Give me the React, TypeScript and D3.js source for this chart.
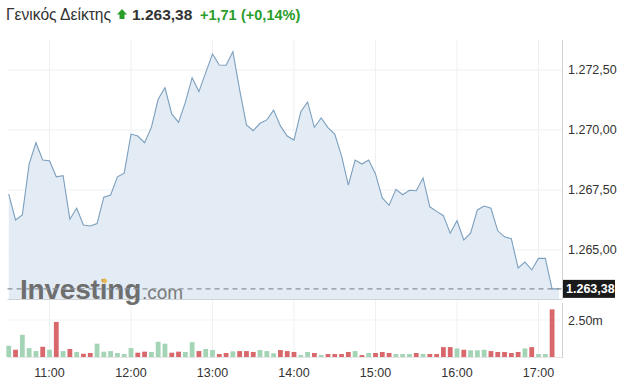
import * as d3 from "d3";

// 5-minute closes, starting 10:30
const startTime = "10:30";
const prices = [
  1267.33, 1266.25, 1266.46, 1268.58, 1269.47, 1268.75, 1268.72, 1268.05, 1268.1, 1266.28,
  1266.74, 1266.04, 1266.0, 1266.1, 1267.2, 1267.29, 1268.05, 1268.2, 1269.83, 1269.75,
  1269.47, 1270.11, 1271.28, 1271.76, 1270.67, 1270.32, 1271.15, 1272.18, 1271.6, 1272.39,
  1273.17, 1272.71, 1272.7, 1273.26, 1271.67, 1270.21, 1269.97, 1270.28, 1270.42, 1270.83,
  1270.17, 1269.75, 1269.58, 1270.76, 1271.17, 1270.11, 1270.5, 1270.1, 1269.83, 1268.92,
  1267.7, 1268.75, 1268.58, 1268.75, 1268.17, 1267.17, 1266.86, 1267.53, 1267.3, 1267.49,
  1267.47, 1268.0, 1266.8, 1266.61, 1266.43, 1265.7, 1266.22, 1265.42, 1265.7, 1266.67,
  1266.83, 1266.74, 1265.8, 1265.55, 1265.47, 1264.25, 1264.5, 1264.17, 1264.65, 1264.65,
  1263.38, 1263.38,
];

// volume in millions, volUp = up bar (green)
const volumes = [
  0.76, 0.49, 1.5, 0.6, 0.4, 0.69, 0.49, 2.37, 0.4, 0.54,
  0.34, 0.22, 0.27, 0.9, 0.36, 0.4, 0.27, 0.2, 0.6, 0.29,
  0.36, 0.34, 1.03, 0.9, 0.29, 0.36, 0.34, 1.0, 0.4, 0.54,
  0.47, 0.2, 0.27, 0.38, 0.4, 0.4, 0.34, 0.47, 0.4, 0.25,
  0.47, 0.4, 0.34, 0.13, 0.34, 0.27, 0.13, 0.2, 0.2, 0.2,
  0.34, 0.4, 0.13, 0.27, 0.27, 0.34, 0.27, 0.2, 0.2, 0.2,
  0.27, 0.2, 0.2, 0.2, 0.67, 0.67, 0.58, 0.49, 0.45, 0.45,
  0.49, 0.4, 0.34, 0.34, 0.27, 0.34, 0.58, 0.67, 0.2, 0.2,
  3.22,
];
const volUp = [
  1, 0, 1, 1, 1, 0, 1, 0, 1, 0,
  1, 0, 0, 1, 1, 1, 1, 1, 1, 0,
  0, 1, 1, 1, 0, 0, 1, 1, 0, 1,
  1, 0, 0, 1, 0, 0, 0, 1, 1, 1,
  0, 0, 0, 1, 1, 0, 1, 0, 0, 0,
  0, 1, 0, 1, 0, 0, 0, 1, 1, 1,
  0, 1, 0, 0, 0, 0, 1, 0, 1, 1,
  1, 0, 0, 0, 0, 0, 1, 0, 1, 1,
  0,
];

const priceTicks = [1265, 1267.5, 1270, 1272.5];
const volTicks = [2.5];
const hourTicks = ["11:00", "12:00", "13:00", "14:00", "15:00", "16:00", "17:00"];

const title = "Γενικός Δείκτης";
const lastPrice = "1.263,38";
const change = "+1,71";
const changePct = "(+0,14%)";
const lastValue = 1263.38;

const toMin = (s: string) => {
  const [h, m] = s.split(":").map(Number);
  return h * 60 + m;
};
const grFmt = (v: number) =>
  d3.format(",.2f")(v).replace(/,/g, "#").replace(".", ",").replace(/#/g, ".");

const FONT = "'Liberation Sans', Arial, sans-serif";

export default function App() {
  const left = 7.5;
  const right = 562;
  const t0 = toMin(startTime);

  const x = d3.scaleLinear().domain([660, 1020]).range([49.5, 538.5]);
  const y = d3.scaleLinear().domain([1262.958, 1273.75]).range([299, 40]);
  const yv = d3.scaleLinear().domain([0, 2.5]).range([357, 320]);

  const pts = prices.map((p, i) => ({ t: t0 + i * 5, p }));
  const line = d3
    .line<{ t: number; p: number }>()
    .x((d) => x(d.t))
    .y((d) => y(d.p));
  const area = d3
    .area<{ t: number; p: number }>()
    .x((d) => x(d.t))
    .y0(299)
    .y1((d) => y(d.p));

  const barW = 4.8;

  return (
    <svg
      width={626}
      height={390}
      style={{ position: "absolute", left: 0, top: 0, background: "#fff" }}
      fontFamily={FONT}
    >
      {/* header */}
      <text x={6} y={20} fontSize={15.6} fill="#333">
        {title}
      </text>
      <path d="M122 9 L127 14.5 L124.5 14.5 L124.5 19 L119.5 19 L119.5 14.5 L117 14.5 Z" fill="#2a9d2a" />
      <text x={132} y={20} fontSize={15.5} fontWeight="bold" fill="#333">
        {lastPrice}
      </text>
      <text x={200} y={20} fontSize={14.5} fontWeight="bold" fill="#2a9d2a">
        {change}
      </text>
      <text x={241} y={20} fontSize={14.5} fontWeight="bold" fill="#2a9d2a">
        {changePct}
      </text>

      {/* grid */}
      {hourTicks.map((h) => (
        <line key={h} x1={x(toMin(h))} x2={x(toMin(h))} y1={40} y2={357} stroke="#eef0f2" />
      ))}
      {priceTicks.map((v) => (
        <line key={v} x1={left} x2={right} y1={y(v)} y2={y(v)} stroke="#eef0f2" />
      ))}
      {volTicks.map((v) => (
        <line key={v} x1={left} x2={right} y1={yv(v)} y2={yv(v)} stroke="#f3f3f3" />
      ))}

      {/* price */}
      <path d={area(pts) || ""} fill="#e3ecf5" />
      <path d={line(pts) || ""} fill="none" stroke="#7c9fbe" strokeWidth={1.1} />
      <line x1={left} x2={right} y1={299.5} y2={299.5} stroke="#cfd3d6" />

      {/* watermark */}
      <text x={20} y={299} fontSize={28} fontWeight="bold" fill="#6e6e6e" letterSpacing={-0.2}>
        Investing
      </text>
      <circle cx={104.5} cy={281} r={2.4} fill="#e8b64a" />
      <text x={142} y={299} fontSize={19} fill="#7a7a7a">
        .com
      </text>

      <line
        x1={left}
        x2={right}
        y1={y(lastValue)}
        y2={y(lastValue)}
        stroke="#8a9096"
        strokeWidth={1.2}
        strokeDasharray="5,4"
      />

      {/* volume */}
      {volumes.map((v, i) => {
        const cx = x(t0 + i * 5);
        return (
          <rect
            key={i}
            x={cx - barW / 2}
            y={yv(v)}
            width={barW}
            height={357 - yv(v)}
            fill={volUp[i] ? "#a3d4b6" : "#d9686c"}
          />
        );
      })}
      <line x1={left} x2={right} y1={357.5} y2={357.5} stroke="#e6e6e6" />

      {/* right axis */}
      <line x1={right + 0.5} x2={right + 0.5} y1={40} y2={299} stroke="#cfd3d6" />
      <line x1={right + 0.5} x2={right + 0.5} y1={303} y2={358} stroke="#cfd3d6" />
      {priceTicks.map((v) => (
        <text key={v} x={568} y={y(v) + 4.5} fontSize={12.5} fill="#333">
          {grFmt(v)}
        </text>
      ))}
      {volTicks.map((v) => (
        <text key={v} x={568} y={yv(v) + 4.5} fontSize={12.5} fill="#333">
          {d3.format(".2f")(v)}m
        </text>
      ))}
      <rect x={563} y={y(lastValue) - 9} width={52} height={18} fill="#1a1a1a" />
      <text x={566} y={y(lastValue) + 4.5} fontSize={12.5} fontWeight="bold" fill="#fff">
        {grFmt(lastValue)}
      </text>

      {/* time axis */}
      {hourTicks.map((h) => (
        <text key={h} x={x(toMin(h))} y={377} fontSize={12.5} fill="#333" textAnchor="middle">
          {h}
        </text>
      ))}
    </svg>
  );
}
